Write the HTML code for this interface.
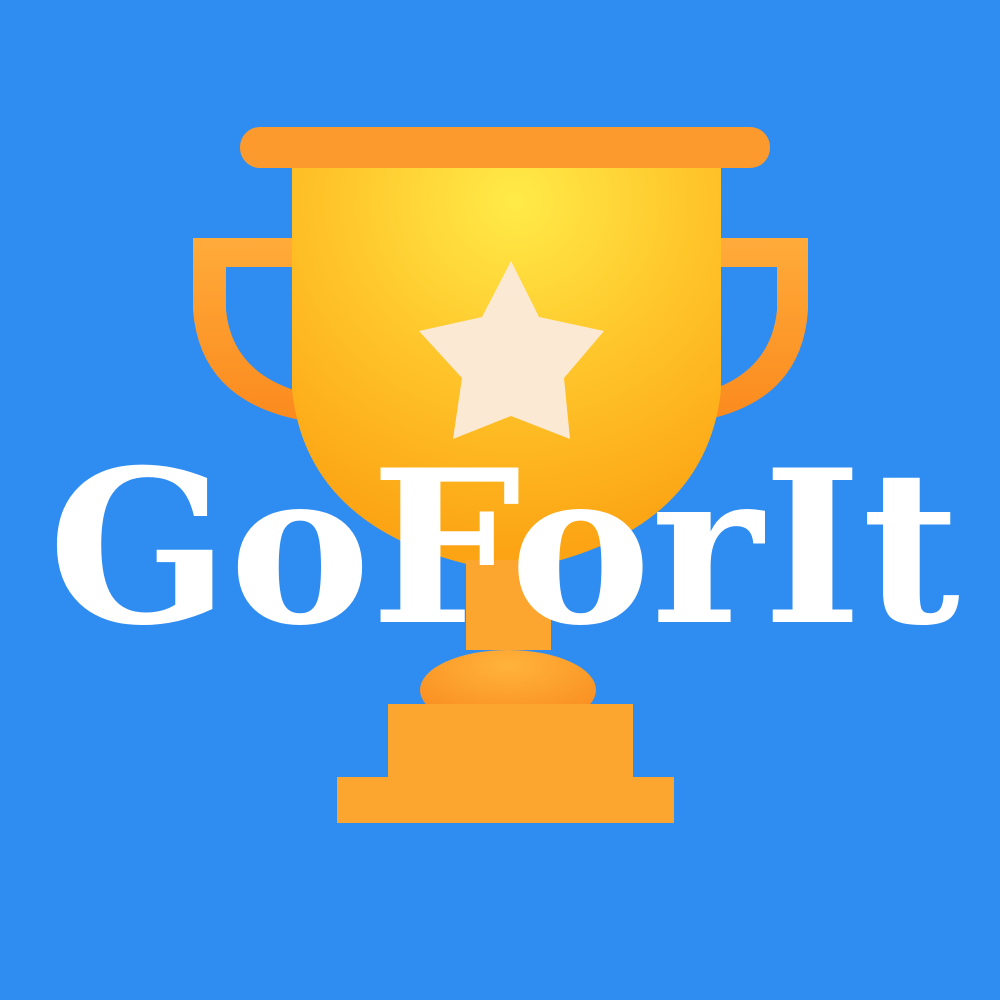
<!DOCTYPE html>
<html><head><meta charset="utf-8"><style>html,body{margin:0;padding:0;background:#2f8cf0}svg{display:block}</style></head>
<body>
<svg width="1000" height="1000" viewBox="0 0 1000 1000" xmlns="http://www.w3.org/2000/svg">
<defs>
<radialGradient id="cupg" cx="0.52" cy="0.1" r="0.85">
<stop offset="0" stop-color="#ffeb48"/><stop offset="0.5" stop-color="#ffc52a"/><stop offset="1" stop-color="#fca414"/>
</radialGradient>
<linearGradient id="handg" x1="0" y1="0" x2="0" y2="1"><stop offset="0" stop-color="#ffab3a"/><stop offset="1" stop-color="#fb8a1e"/></linearGradient>
<radialGradient id="knobg" cx="0.5" cy="0.2" r="0.8"><stop offset="0" stop-color="#ffb33a"/><stop offset="1" stop-color="#f98a1e"/></radialGradient>
</defs>
<rect width="1000" height="1000" fill="#2f8cf0"/>
<path d="M193 238 H300 V267 H226 V310 Q232 372 300 392 V420 Q200 400 193 310 Z" fill="url(#handg)"/>
<path d="M808 238 H710 V267 H777 V310 Q771 372 705 392 V420 Q802 400 808 310 Z" fill="url(#handg)"/>
<path d="M292 160 H721 V390 Q705 540 506 572 Q308 540 292 390 Z" fill="url(#cupg)"/>
<rect x="240" y="127" width="530" height="41" rx="20" fill="#fd9a2e"/>
<polygon points="511,261 539,317 604,331 564,378 570,439 511,416 453,439 462,378 419,331 482,317" fill="#fbe9d3"/>
<path d="M466 560 H551 V650 H466 Z" fill="#fca630"/>
<ellipse cx="508" cy="690" rx="88" ry="40" fill="url(#knobg)"/>
<rect x="388" y="704" width="245" height="75" fill="#fca630"/>
<rect x="337" y="777" width="337" height="46" fill="#fca630"/>
<text x="48" y="622" font-family="'DejaVu Serif','Liberation Serif',serif" font-weight="bold" font-size="212" fill="#ffffff" textLength="912" lengthAdjust="spacingAndGlyphs">GoForIt</text>
</svg>
</body></html>
